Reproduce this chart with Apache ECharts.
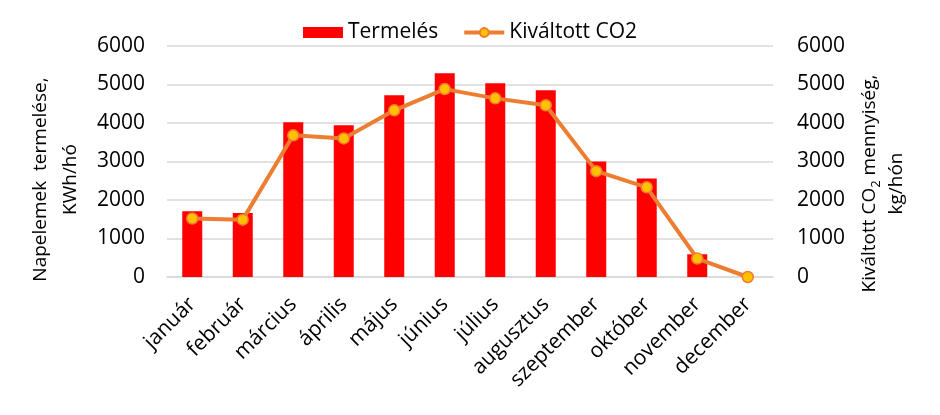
<!DOCTYPE html>
<html>
<head>
<meta charset="utf-8">
<script src="https://cdn.jsdelivr.net/npm/echarts@6/dist/echarts.min.js"></script>
<style>
  html, body { margin: 0; padding: 0; background: #fff; }
  #chart { width: 940px; height: 415px; }
</style>
</head>
<body>
<div id="chart"></div>
<script>
const months = ['január', 'február', 'március', 'április', 'május', 'június', 'július', 'augusztus', 'szeptember', 'október', 'november', 'december']
const termeles = [1710, 1660, 4020, 3940, 4720, 5290, 5030, 4850, 3000, 2560, 590, 0]
const co2 = [1520, 1490, 3680, 3600, 4330, 4880, 4640, 4460, 2750, 2330, 480, 0]
const yTicks = { min: 0, max: 6000, interval: 1000 }

const font = '"Open Sans", Lato, sans-serif'
const gridColor = '#d9d9d9'

const myChart = echarts.init(document.getElementById('chart'))
myChart.setOption({
    animation: false,
    textStyle: { fontFamily: font },
    legend: {
        top: 17,
        left: 'center',
        itemGap: 24,
        itemWidth: 40,
        itemHeight: 11,
        textStyle: { fontSize: 21, color: '#000', fontFamily: font },
        data: [
            { name: 'Termelés', icon: 'rect' },
            { name: 'Kiváltott CO2', lineStyle: { width: 4 } }
        ]
    },
    grid: { left: 167, right: 167, top: 46, bottom: 138 },
    xAxis: {
        type: 'category',
        data: months,
        axisLine: { lineStyle: { color: gridColor, width: 1.5 } },
        axisTick: { show: false },
        axisLabel: { rotate: 45, fontSize: 21, color: '#000', margin: 24, interval: 0, fontFamily: font }
    },
    yAxis: [
        {
            type: 'value',
            ...yTicks,
            name: 'Napelemek  termelése,\nKWh/hó',
            nameLocation: 'middle',
            nameRotate: 90,
            nameGap: 80,
            nameTextStyle: { fontSize: 19, color: '#000', lineHeight: 30, fontFamily: font, padding: [0, 36, 0, 0] },
            axisLine: { show: false },
            axisTick: { show: false },
            axisLabel: { fontSize: 21, color: '#000', margin: 22, fontFamily: font, formatter: v => String(v) },
            splitLine: { lineStyle: { color: gridColor, width: 1.5 } }
        },
        {
            type: 'value',
            ...yTicks,
            position: 'right',
            name: '{a|Kiváltott CO}{s|2}{a| mennyiség,}\n{a|kg/hón}',
            nameLocation: 'middle',
            nameRotate: 90,
            nameGap: 80,
            nameTextStyle: {
                fontSize: 19, color: '#000', lineHeight: 27, fontFamily: font, padding: [0, 44, 0, 0],
                rich: {
                    a: { fontSize: 19, color: '#000', fontFamily: font, lineHeight: 27 },
                    s: { fontSize: 13, color: '#000', fontFamily: font, verticalAlign: 'bottom', lineHeight: 21 }
                }
            },
            axisLine: { show: false },
            axisTick: { show: false },
            axisLabel: { fontSize: 21, color: '#000', margin: 24, fontFamily: font, formatter: v => String(v) },
            splitLine: { show: false }
        }
    ],
    series: [
        {
            name: 'Termelés',
            type: 'bar',
            data: termeles,
            barWidth: 20,
            itemStyle: { color: '#ff0000' }
        },
        {
            name: 'Kiváltott CO2',
            type: 'line',
            yAxisIndex: 1,
            data: co2,
            symbol: 'circle',
            symbolSize: 11,
            lineStyle: { color: '#ed7d31', width: 4 },
            itemStyle: { color: '#ffc000', borderColor: '#ed7d31', borderWidth: 1.5 }
        }
    ]
})
</script>
</body>
</html>
